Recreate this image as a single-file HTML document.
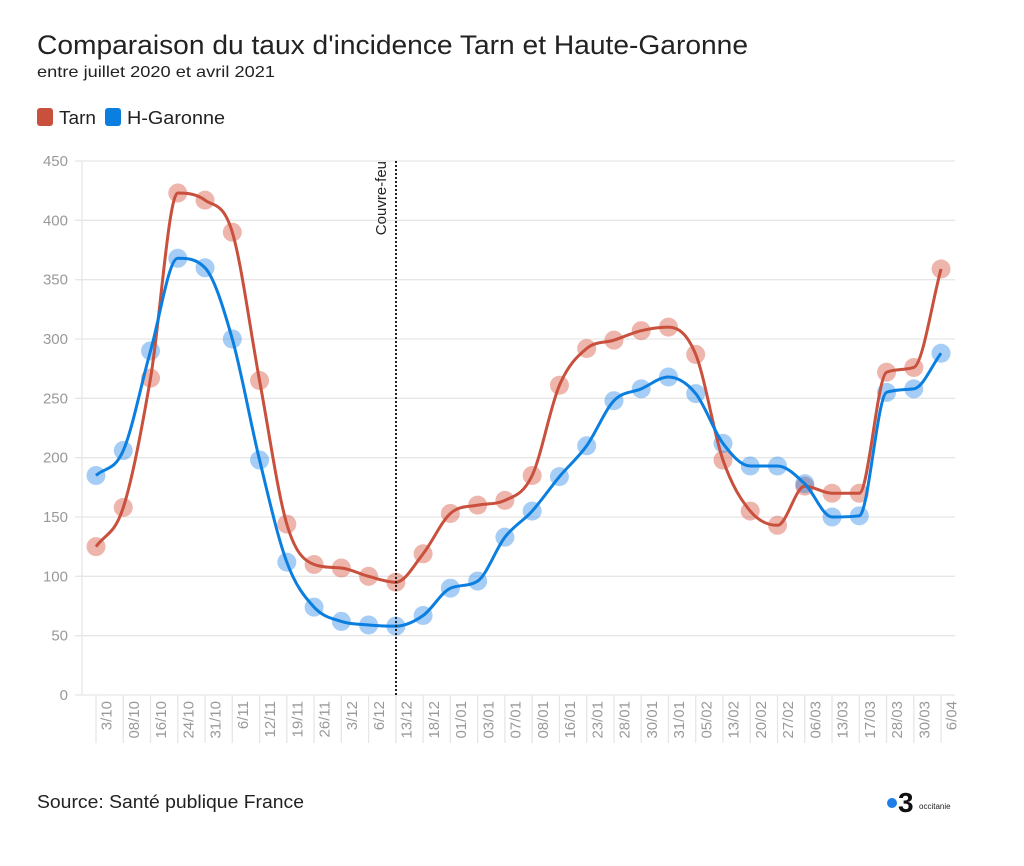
<!DOCTYPE html>
<html><head><meta charset="utf-8"><style>
body{margin:0;background:#fff;width:1024px;height:861px;overflow:hidden;font-family:"Liberation Sans",sans-serif}
</style></head><body>
<svg id="s" width="1024" height="861" xmlns="http://www.w3.org/2000/svg" font-family="Liberation Sans, sans-serif">
<text x="37" y="54" font-size="27" fill="#222" textLength="711" lengthAdjust="spacingAndGlyphs">Comparaison du taux d'incidence Tarn et Haute-Garonne</text>
<text x="37" y="77" font-size="16" fill="#222" textLength="238" lengthAdjust="spacingAndGlyphs">entre juillet 2020 et avril 2021</text>
<rect x="37" y="108" width="16" height="18" rx="3" fill="#c8503c"/>
<text x="59" y="124" font-size="18" fill="#222" textLength="37" lengthAdjust="spacingAndGlyphs">Tarn</text>
<rect x="105" y="108" width="16" height="18" rx="3" fill="#0a7fe0"/>
<text x="127" y="124" font-size="18" fill="#222" textLength="98" lengthAdjust="spacingAndGlyphs">H-Garonne</text>
<text x="37" y="808" font-size="18" fill="#222" textLength="267" lengthAdjust="spacingAndGlyphs">Source: Santé publique France</text>
<circle cx="892" cy="803" r="5" fill="#1e7fe8"/>
<text x="898" y="812" font-size="28" font-weight="bold" fill="#111">3</text>
<text x="919" y="809" font-size="8" fill="#222">occitanie</text>
<g id="g"></g>
</svg>
<script>
var g=document.getElementById('g'),h='';
function Y(v){return 695-v*534/450}
for(var i=0;i<=9;i++){var y=Y(i*50);h+='<line x1="75" x2="955" y1="'+y+'" y2="'+y+'" stroke="#e6e6e6" stroke-width="1.3"/>';h+='<text x="68" y="'+(y+5)+'" font-size="15" fill="#999" text-anchor="end">'+(i*50)+'</text>';}
h+='<line x1="82" x2="82" y1="161" y2="695" stroke="#e6e6e6" stroke-width="1.3"/>';
var L="3/10,08/10,16/10,24/10,31/10,6/11,12/11,19/11,26/11,3/12,6/12,13/12,18/12,01/01,03/01,07/01,08/01,16/01,23/01,28/01,30/01,31/01,05/02,13/02,20/02,27/02,06/03,13/03,17/03,28/03,30/03,6/04".split(',');
var d=27.26;
for(var i=0;i<32;i++){var x0=96+d*i;h+='<line x1="'+x0+'" x2="'+x0+'" y1="695" y2="743" stroke="#e6e6e6" stroke-width="1.3"/>';
var cx=x0+d/2-3;h+='<text transform="translate('+(cx+5)+',701) rotate(-90)" font-size="15" fill="#999" text-anchor="end">'+L[i]+'</text>';}
var T=[125,158,267,423,417,390,265,144,110,107,100,95,119,153,160,164,185,261,292,299,307,310,287,198,155,143,176,170,170,272,276,359];
var H=[185,206,290,368,360,300,198,112,74,62,59,58,67,90,96,133,155,184,210,248,258,268,254,212,193,193,178,150,151,255,258,288];
function path(v){var n=v.length,xs=[],ys=[],m=[],dl=[];for(var i=0;i<n;i++){xs.push(96+d*i);ys.push(Y(v[i]));}
for(i=0;i<n-1;i++)dl.push((ys[i+1]-ys[i])/d);m[0]=dl[0];m[n-1]=dl[n-2];
for(i=1;i<n-1;i++){m[i]=(dl[i-1]*dl[i]<=0)?0:(dl[i-1]+dl[i])/2;}
for(i=0;i<n-1;i++){if(dl[i]==0){m[i]=m[i+1]=0;continue;}var a=m[i]/dl[i],b=m[i+1]/dl[i],s=a*a+b*b;if(s>9){var t=3/Math.sqrt(s);m[i]=t*a*dl[i];m[i+1]=t*b*dl[i];}}
var p='M'+xs[0]+','+ys[0];for(i=0;i<n-1;i++){p+=' C'+(xs[i]+d/3)+','+(ys[i]+m[i]*d/3)+' '+(xs[i+1]-d/3)+','+(ys[i+1]-m[i+1]*d/3)+' '+xs[i+1]+','+ys[i+1];}return p;}
function dots(v,c){var s='';for(var i=0;i<v.length;i++)s+='<circle cx="'+(96+d*i)+'" cy="'+Y(v[i])+'" r="9.5" fill="'+c+'"/>';return s;}
h+=dots(T,'rgba(214,90,70,0.45)')+dots(H,'rgba(30,130,230,0.4)');
h+='<path d="'+path(T)+'" fill="none" stroke="#c8503c" stroke-width="3"/>';
h+='<path d="'+path(H)+'" fill="none" stroke="#0a7fe0" stroke-width="3"/>';
h+='<line x1="396" x2="396" y1="161" y2="695" stroke="#222" stroke-width="2" stroke-dasharray="2,2"/>';
h+='<text transform="translate(386,161) rotate(-90)" font-size="15" fill="#222" text-anchor="end">Couvre-feu</text>';
g.innerHTML=h;
</script>
</body></html>
